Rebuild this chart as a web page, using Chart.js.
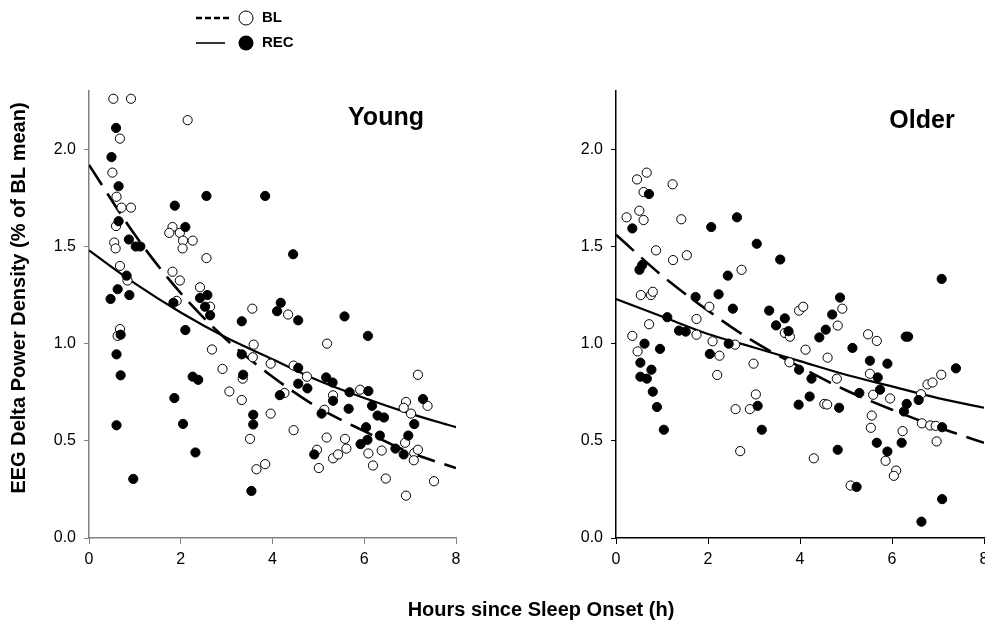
<!DOCTYPE html>
<html><head><meta charset="utf-8">
<script src="https://cdn.jsdelivr.net/npm/chart.js@4.4.1/dist/chart.umd.min.js"></script>
<style>
html,body{margin:0;padding:0;background:#fff;width:985px;height:625px;overflow:hidden;position:relative}
#c1{position:absolute;left:0;top:0;width:985px;height:625px}
#c2{position:absolute;left:495px;top:0;width:500px;height:625px}
</style></head><body>
<canvas id="c1" width="985" height="625"></canvas>
<canvas id="c2" width="500" height="625"></canvas>
<script>
// ---- data ----
const yTicks = [0, 0.5, 1.0, 1.5, 2.0];
const xTicks = [0, 2, 4, 6, 8];
const fitHours = [0, 1, 2, 3, 4, 5, 6, 7, 8];

const youngBLFit  = [1.92, 1.56, 1.26, 1.02, 0.83, 0.67, 0.55, 0.44, 0.36];
const youngRECFit = [1.48, 1.31, 1.16, 1.03, 0.92, 0.81, 0.72, 0.64, 0.57];
const olderBLFit  = [1.56, 1.35, 1.17, 1.01, 0.88, 0.76, 0.66, 0.57, 0.49];
const olderRECFit = [1.23, 1.14, 1.05, 0.98, 0.91, 0.84, 0.78, 0.72, 0.67];

const youngBL = [
 [0.53,2.26],[0.915,2.26],[2.15,2.15],[0.675,2.055],[0.51,1.88],[0.60,1.756],[0.71,1.70],[0.915,1.70],
 [0.59,1.605],[1.82,1.60],[1.75,1.57],[1.98,1.57],[2.05,1.53],[2.26,1.53],[2.04,1.49],[0.55,1.52],[0.58,1.49],
 [2.56,1.44],[0.675,1.40],[1.82,1.37],[0.84,1.325],[1.98,1.325],[2.42,1.29],[2.64,1.19],[1.91,1.22],[3.56,1.18],
 [0.675,1.075],[0.625,1.04],[2.68,0.97],[3.59,0.995],[3.57,0.93],[3.96,0.897],[2.91,0.87],[3.35,0.82],[3.06,0.754],
 [3.33,0.71],[3.96,0.64],[3.51,0.51],[3.65,0.354],[3.84,0.38],
 [4.34,1.15],[5.19,1.00],[4.46,0.887],[4.75,0.83],[5.91,0.763],[4.26,0.746],[5.32,0.734],[5.13,0.66],[7.17,0.84],
 [7.38,0.68],[6.91,0.70],[6.86,0.67],[7.02,0.64],[6.89,0.49],[7.09,0.437],[7.17,0.454],[7.08,0.40],[6.09,0.435],
 [6.38,0.45],[6.19,0.373],[6.47,0.306],[7.52,0.292],[6.91,0.218],[5.58,0.51],[5.61,0.46],[5.18,0.517],[4.97,0.454],
 [5.32,0.41],[5.43,0.43],[5.01,0.36],[4.46,0.555]
];
const youngREC = [
 [0.59,2.11],[0.49,1.96],[0.645,1.81],[2.56,1.76],[3.84,1.76],[1.87,1.71],[0.645,1.63],[2.10,1.60],[0.87,1.536],
 [1.02,1.50],[1.12,1.50],[4.45,1.46],[0.82,1.35],[0.625,1.28],[0.47,1.23],[0.88,1.25],[2.42,1.235],[2.58,1.25],
 [2.53,1.19],[2.64,1.146],[1.84,1.21],[3.33,1.115],[0.69,1.046],[2.10,1.07],[0.60,0.945],[0.69,0.837],[3.33,0.945],
 [2.26,0.83],[2.38,0.814],[3.36,0.84],[1.86,0.72],[3.58,0.634],[3.58,0.584],[0.60,0.58],[2.05,0.587],[2.32,0.44],
 [0.965,0.304],[3.54,0.242],
 [4.18,1.21],[4.10,1.167],[4.56,1.12],[5.57,1.14],[6.08,1.04],[4.56,0.875],[4.56,0.794],[4.76,0.77],[5.17,0.826],
 [5.31,0.80],[5.68,0.75],[6.09,0.756],[4.16,0.735],[5.32,0.706],[5.07,0.64],[5.66,0.665],[6.17,0.68],[6.29,0.63],
 [6.43,0.62],[7.28,0.715],[7.09,0.586],[6.04,0.57],[6.34,0.527],[6.07,0.505],[5.92,0.483],[6.96,0.527],[6.68,0.46],
 [6.86,0.43],[4.91,0.43]
];
const olderBL = [
 [0.23,1.65],[0.457,1.845],[0.667,1.88],[0.60,1.78],[1.23,1.82],[0.507,1.684],[0.60,1.636],[1.42,1.64],[0.87,1.48],
 [1.54,1.455],[1.24,1.43],[2.73,1.38],[0.54,1.25],[0.76,1.25],[0.80,1.267],[2.03,1.19],[1.75,1.127],[0.72,1.10],
 [1.75,1.046],[3.67,1.055],[3.78,1.036],[0.355,1.04],[0.47,0.96],[2.10,1.012],[2.59,0.995],[2.25,0.938],[2.20,0.839],
 [2.99,0.897],[3.77,0.904],[3.04,0.739],[2.60,0.663],[2.91,0.663],[2.70,0.447],[3.98,1.17],
 [4.07,1.19],[4.92,1.18],[4.82,1.093],[5.48,1.048],[5.67,1.014],[4.12,0.969],[4.60,0.928],[5.52,0.845],[4.80,0.82],
 [5.59,0.737],[5.96,0.718],[6.77,0.79],[6.88,0.80],[7.07,0.84],[6.63,0.74],[4.53,0.69],[4.59,0.687],[5.56,0.63],
 [6.65,0.59],[6.83,0.579],[6.95,0.577],[5.54,0.567],[6.23,0.55],[6.97,0.497],[5.86,0.397],[6.09,0.347],[6.04,0.32],
 [4.30,0.41],[5.10,0.27]
];
const olderREC = [
 [0.717,1.77],[0.355,1.593],[2.07,1.60],[2.63,1.65],[3.06,1.514],[3.57,1.433],[0.57,1.405],[0.51,1.38],[2.43,1.35],
 [1.73,1.24],[2.23,1.254],[2.54,1.18],[3.33,1.17],[3.67,1.13],[3.48,1.094],[1.115,1.136],[1.37,1.067],[1.515,1.062],
 [3.75,1.064],[0.62,1.00],[0.957,0.973],[2.45,1.00],[2.04,0.947],[0.53,0.902],[0.53,0.83],[0.67,0.82],[0.77,0.866],
 [0.80,0.753],[0.89,0.674],[1.04,0.557],[3.98,0.866],[3.08,0.68],[3.17,0.557],[3.97,0.686],
 [7.08,1.333],[4.87,1.237],[4.70,1.15],[4.56,1.072],[4.42,1.032],[6.30,1.036],[6.35,1.036],[5.14,0.978],[5.52,0.912],
 [5.90,0.897],[5.69,0.826],[4.25,0.82],[5.74,0.763],[5.29,0.746],[6.58,0.71],[7.39,0.873],[4.21,0.728],[4.85,0.67],
 [6.32,0.69],[6.26,0.651],[7.09,0.57],[5.67,0.49],[6.21,0.49],[5.90,0.445],[4.82,0.454],[5.23,0.263],[7.09,0.20],
 [6.64,0.084]
];

const FONT = '"Liberation Sans", Arial, Helvetica, sans-serif';

function toPts(arr){ return arr.map(p => ({x:p[0], y:p[1]})); }
function fitPts(ys){ return fitHours.map((h,i) => ({x:h, y:ys[i]})); }

function textPlugin(draw){
  return { id:'txt', afterDraw(chart){ const ctx = chart.ctx; ctx.save(); draw(ctx, chart); ctx.restore(); } };
}

function makeChart(id, bl, rec, blFit, recFit, axisColor, axisW, padRight, plugin){
  return new Chart(document.getElementById(id), {
    type:'scatter',
    data:{ datasets:[
      { label:'REC', data:toPts(rec), backgroundColor:'#000', borderColor:'#000', pointRadius:4.6, pointBorderWidth:1, showLine:false },
      { label:'BL', data:toPts(bl), backgroundColor:'#fff', borderColor:'#000', pointRadius:4.6, pointBorderWidth:1, showLine:false },
      { type:'line', label:'BL fit', data:fitPts(blFit), borderColor:'#000', borderWidth:2.6, borderDash:[24,10],
        pointRadius:0, fill:false, cubicInterpolationMode:'monotone' },
      { type:'line', label:'REC fit', data:fitPts(recFit), borderColor:'#000', borderWidth:2.2,
        pointRadius:0, fill:false, cubicInterpolationMode:'monotone' }
    ]},
    options:{
      responsive:false, animation:false, devicePixelRatio:1, events:[],
      layout:{ padding:{ left:0, top:91, right:padRight, bottom:0 } },
      plugins:{ legend:{display:false}, tooltip:{enabled:false}, title:{display:false} },
      scales:{
        x:{ type:'linear', min:0, max:8,
            afterBuildTicks: s => { s.ticks = xTicks.map(v => ({value:v})); },
            afterFit: s => { s.height = 87; },
            grid:{ drawOnChartArea:false, drawTicks:true, tickLength:6, color:axisColor, lineWidth:1 },
            border:{ display:true, color:axisColor, width:1.5 },
            ticks:{ color:'#000', font:{family:FONT, size:16}, padding:6, maxRotation:0, autoSkip:false,
                    callback: v => String(v) } },
        y:{ type:'linear', min:0, max:2.3,
            afterBuildTicks: s => { s.ticks = yTicks.map(v => ({value:v})); },
            afterFit: s => { s.width = axisW; },
            grid:{ drawOnChartArea:false, drawTicks:true, tickLength:5, color:axisColor, lineWidth:1 },
            border:{ display:true, color:axisColor, width:1.5 },
            ticks:{ color:'#000', font:{family:FONT, size:16}, padding:8, autoSkip:false,
                    callback: v => Number(v).toFixed(1) } }
      }
    },
    plugins:[plugin]
  });
}

const leftPlugin = textPlugin((ctx) => {
  ctx.fillStyle = '#000'; ctx.strokeStyle = '#000';
  // legend
  ctx.lineWidth = 2.6; ctx.setLineDash([6,3]);
  ctx.beginPath(); ctx.moveTo(196,18); ctx.lineTo(229,18); ctx.stroke();
  ctx.setLineDash([]); ctx.lineWidth = 1.6;
  ctx.beginPath(); ctx.moveTo(196,43); ctx.lineTo(225,43); ctx.stroke();
  ctx.lineWidth = 1;
  ctx.beginPath(); ctx.arc(246,18,7,0,Math.PI*2); ctx.fillStyle='#fff'; ctx.fill(); ctx.stroke();
  ctx.fillStyle = '#000';
  ctx.beginPath(); ctx.arc(246,43,7.5,0,Math.PI*2); ctx.fill();
  ctx.font = 'bold 15px ' + FONT; ctx.textAlign = 'left'; ctx.textBaseline = 'middle';
  ctx.fillText('BL', 262, 18);
  ctx.fillText('REC', 262, 43);
  // panel title
  ctx.font = 'bold 25px ' + FONT; ctx.textAlign = 'center'; ctx.textBaseline = 'alphabetic';
  ctx.fillText('Young', 386, 125);
  // x axis title
  ctx.font = 'bold 20px ' + FONT;
  ctx.fillText('Hours since Sleep Onset (h)', 541, 616);
  // y axis title
  ctx.translate(25, 298); ctx.rotate(-Math.PI/2);
  ctx.fillText('EEG Delta Power Density (% of BL mean)', 0, 0);
});
const rightPlugin = textPlugin((ctx) => {
  ctx.fillStyle = '#000';
  ctx.font = 'bold 25px ' + FONT; ctx.textAlign = 'center'; ctx.textBaseline = 'alphabetic';
  ctx.fillText('Older', 922 - 495, 128);
});

makeChart('c1', youngBL, youngREC, youngBLFit, youngRECFit, '#808080', 89, 529, leftPlugin);
makeChart('c2', olderBL, olderREC, olderBLFit, olderRECFit, '#000', 121, 11, rightPlugin);
</script>
</body></html>
